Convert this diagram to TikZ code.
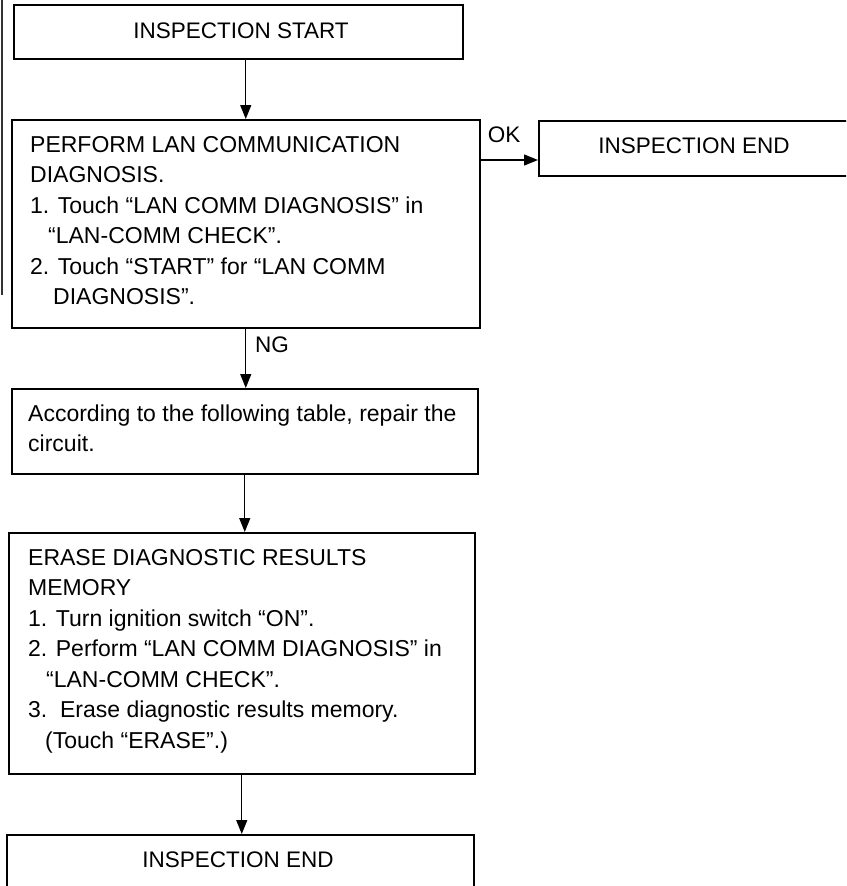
\documentclass[tikz,border=0pt]{standalone}
\usepackage{fontspec}
\setmainfont{Liberation Sans}
\usetikzlibrary{arrows.meta}
\begin{document}
\begin{tikzpicture}[x=1pt,y=-1pt,
  box/.style={draw, line width=1.5pt, inner sep=0pt, anchor=north west},
  body/.style={inner sep=0pt, anchor=base west, font=\fontsize{23}{30.5}\selectfont},
  title/.style={inner sep=0pt, font=\fontsize{22.5}{26}\selectfont},
  flow/.style={draw, line width=1.3pt, -{Triangle[width=11pt,length=14pt]}}]
\useasboundingbox (0,0) rectangle (846,886);
\clip (0,0) rectangle (846,886);

% edge of the sheet on the left
\draw[line width=1.2pt, black!80] (2,0) -- (2,295);

% boxes
\node[box, minimum width=449pt, minimum height=54pt] (start) at (13,4) {};
\node[box, minimum width=468pt, minimum height=208pt] (lan) at (11,119) {};
\node[box, minimum width=340pt, minimum height=55pt] (endA) at (538,120) {};
\node[box, minimum width=466pt, minimum height=85pt] (repair) at (11,388) {};
\node[box, minimum width=466pt, minimum height=241pt] (erase) at (8,532) {};
\node[box, minimum width=467pt, minimum height=80pt] (endB) at (6,834) {};

% texts
\node[title] (startT) at (241,31) {INSPECTION START};
\node[title] (endAT) at (694,146) {INSPECTION END};
\node[title] (endBT) at (238,860) {INSPECTION END};

\node[body] (lanT) at (30,152) {\parbox[t]{440pt}{\raggedright
PERFORM LAN COMMUNICATION\\
DIAGNOSIS.\\
1. Touch “LAN COMM DIAGNOSIS” in\\
\hspace*{18pt}“LAN-COMM CHECK”.\\
2. Touch “START” for “LAN COMM\\
\hspace*{23pt}DIAGNOSIS”.}};

\node[body] (repairT) at (28,421) {\parbox[t]{445pt}{\raggedright
According to the following table, repair the\\
circuit.}};

\node[body] (eraseT) at (28,565) {\parbox[t]{445pt}{\raggedright
ERASE DIAGNOSTIC RESULTS\\
MEMORY\\
1. Turn ignition switch “ON”.\\
2. Perform “LAN COMM DIAGNOSIS” in\\
\hspace*{18pt}“LAN-COMM CHECK”.\\
3.\ \ Erase diagnostic results memory.\\
\hspace*{17pt}(Touch “ERASE”.)}};

% connectors
\draw[flow] (start.south -| lan.north) -- (lan.north);
\path (lan.north east) ++(0,41) coordinate (okfrom);
\draw[flow] (okfrom) -- (okfrom -| endA.west);
\node[title] (okL) at (504,135) {OK};
\draw[flow] (lan.south) -- (lan.south |- repair.north);
\node[title] (ngL) at (272,345) {NG};
\draw[flow] (repair.south) -- (repair.south |- erase.north);
\draw[flow] (erase.south) -- (erase.south |- endB.north);
\end{tikzpicture}
\end{document}
